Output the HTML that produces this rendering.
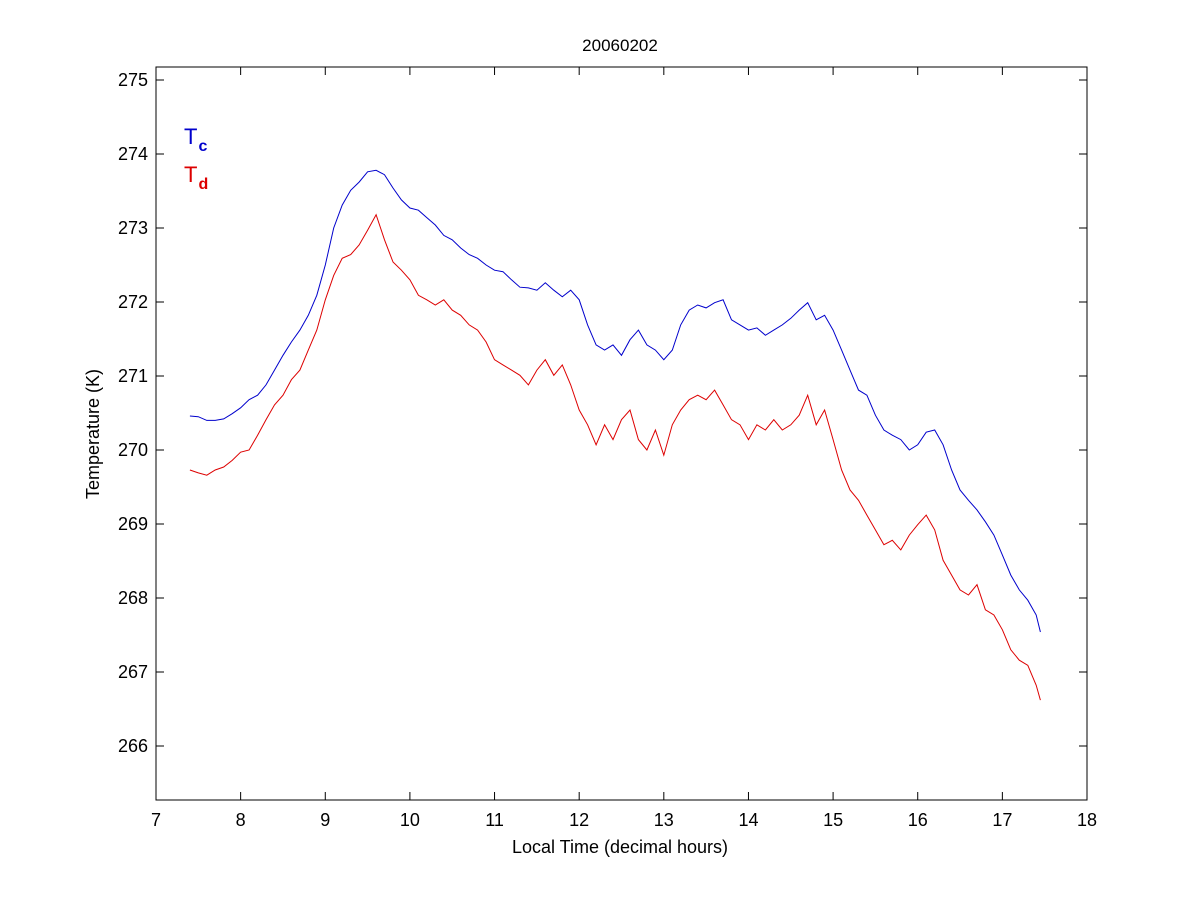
<!DOCTYPE html>
<html><head><meta charset="utf-8"><style>
body{margin:0;background:#fff;width:1200px;height:900px;overflow:hidden}
text{font-family:"Liberation Sans",Arial,sans-serif}
</style></head><body>
<svg id="chart" width="1200" height="900">
<rect x="0" y="0" width="1200" height="900" fill="#fff"/>
<g id="axes"></g><g id="lines"></g>
<text x="620" y="51" font-size="17" text-anchor="middle">20060202</text>
<text x="620" y="853" font-size="18" text-anchor="middle">Local Time (decimal hours)</text>
<text transform="translate(99,434) rotate(-90)" font-size="18" text-anchor="middle">Temperature (K)</text>
<text x="184" y="144" font-size="22" fill="#0000cc">T<tspan font-size="16" font-weight="bold" dy="7" dx="1">c</tspan></text>
<text x="184" y="182" font-size="22" fill="#dd0000">T<tspan font-size="16" font-weight="bold" dy="7" dx="1">d</tspan></text>
</svg>
<script>
const xTicks=[7,8,9,10,11,12,13,14,15,16,17,18];
const yTicks=[266,267,268,269,270,271,272,273,274,275];
const hours=[];for(let i=0;i<=100;i++)hours.push(+(7.4+i*0.1).toFixed(2));hours.push(17.45);
const tc=[270.46,270.45,270.4,270.4,270.42,270.49,270.57,270.68,270.74,270.88,271.08,271.28,271.46,271.62,271.82,272.09,272.5,273.0,273.31,273.51,273.62,273.76,273.78,273.72,273.54,273.38,273.27,273.24,273.14,273.04,272.9,272.84,272.73,272.64,272.59,272.5,272.43,272.41,272.3,272.2,272.19,272.16,272.26,272.16,272.07,272.16,272.03,271.69,271.42,271.35,271.42,271.28,271.49,271.62,271.42,271.35,271.22,271.35,271.69,271.89,271.96,271.92,271.99,272.03,271.76,271.69,271.62,271.65,271.55,271.62,271.69,271.78,271.89,271.99,271.76,271.82,271.62,271.35,271.08,270.81,270.74,270.47,270.27,270.2,270.14,270.0,270.07,270.24,270.27,270.07,269.73,269.46,269.32,269.19,269.03,268.85,268.58,268.31,268.11,267.97,267.77,267.54];
const td=[269.73,269.69,269.66,269.73,269.77,269.86,269.97,270.0,270.2,270.41,270.61,270.74,270.95,271.08,271.35,271.62,272.03,272.36,272.59,272.64,272.77,272.97,273.18,272.84,272.54,272.43,272.3,272.09,272.03,271.96,272.03,271.89,271.82,271.69,271.62,271.46,271.22,271.15,271.08,271.01,270.88,271.08,271.22,271.01,271.15,270.88,270.54,270.34,270.07,270.34,270.14,270.41,270.54,270.14,270.0,270.27,269.93,270.34,270.54,270.68,270.74,270.68,270.81,270.61,270.41,270.34,270.14,270.34,270.27,270.41,270.27,270.34,270.47,270.74,270.34,270.54,270.14,269.73,269.46,269.32,269.12,268.92,268.72,268.78,268.65,268.85,268.99,269.12,268.92,268.51,268.31,268.11,268.04,268.18,267.84,267.77,267.57,267.3,267.16,267.09,266.82,266.62];
const L=156,R=1087,T=67,B=800;
const xs=h=>L+(h-7)/(18-7)*(R-L);
const ys=v=>80+(275-v)*74;
const NS='http://www.w3.org/2000/svg';
const ax=document.getElementById('axes'),ln=document.getElementById('lines');
function mk(tag,at,par){const e=document.createElementNS(NS,tag);for(const k in at)e.setAttribute(k,at[k]);par.appendChild(e);return e;}
const frame=mk('rect',{x:L,y:T,width:R-L,height:B-T,fill:'none',stroke:'#000','stroke-width':1},ax);


xTicks.forEach(t=>{const x=xs(t);
mk('line',{x1:x,y1:B,x2:x,y2:B-8,stroke:'#000'},ax);mk('line',{x1:x,y1:T,x2:x,y2:T+8,stroke:'#000'},ax);
const tx=mk('text',{x:x,y:B+26,'font-size':18,'text-anchor':'middle'},ax);tx.textContent=t;

});
yTicks.forEach(t=>{const y=ys(t);
mk('line',{x1:L,y1:y,x2:L+8,y2:y,stroke:'#000'},ax);mk('line',{x1:R,y1:y,x2:R-8,y2:y,stroke:'#000'},ax);
const tx=mk('text',{x:L-8,y:y+6,'font-size':18,'text-anchor':'end'},ax);tx.textContent=t;

});
function line(vals,col,name){const d=vals.map((v,i)=>(i?'L':'M')+xs(hours[i]).toFixed(1)+','+ys(v).toFixed(1)).join('');
const p=mk('path',{d:d,fill:'none',stroke:col,'stroke-width':1},ln);

}
line(tc,'#0000cc','tc-line');line(td,'#dd0000','td-line');
</script>
</body></html>
